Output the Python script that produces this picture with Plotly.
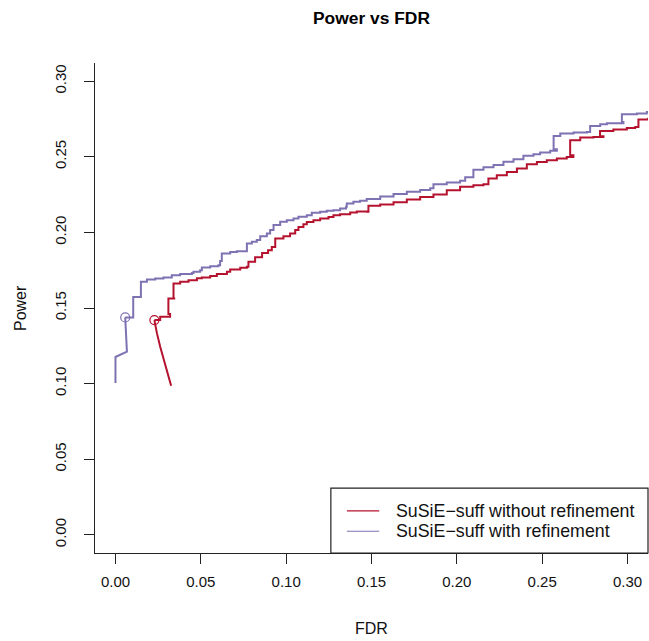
import plotly.graph_objects as go

# ---- data ----
fdr_with = [0.0000, 0.0000, 0.0067, 0.0057, 0.0104, 0.0104, 0.0149, 0.0149, 0.0184, 0.0233,
            0.0281, 0.0330, 0.0379, 0.0448, 0.0457, 0.0496, 0.0506, 0.0555, 0.0603, 0.0613,
            0.0623, 0.0672, 0.0711, 0.0770, 0.0770, 0.0799, 0.0828, 0.0848, 0.0887, 0.0906,
            0.0926, 0.0965, 0.1004, 0.1043, 0.1072, 0.1121, 0.1150, 0.1199, 0.1238, 0.1277,
            0.1316, 0.1351, 0.1355, 0.1394, 0.1433, 0.1472, 0.1551, 0.1629, 0.1707, 0.1785,
            0.1844, 0.1863, 0.1941, 0.2019, 0.2049, 0.2097, 0.2156, 0.2215, 0.2273, 0.2332,
            0.2390, 0.2449, 0.2488, 0.2547, 0.2586, 0.2567, 0.2606, 0.2684, 0.2762, 0.2781,
            0.2840, 0.2879, 0.2976, 0.2967, 0.3055, 0.3113, 0.3180]
power_with = [0.1004, 0.1176, 0.1211, 0.1438, 0.1460, 0.1572, 0.1585, 0.1673, 0.1689, 0.1695,
              0.1702, 0.1717, 0.1724, 0.1732, 0.1739, 0.1750, 0.1768, 0.1776, 0.1783, 0.1811,
              0.1860, 0.1871, 0.1876, 0.1887, 0.1927, 0.1938, 0.1949, 0.1975, 0.1993, 0.2015,
              0.2048, 0.2070, 0.2081, 0.2092, 0.2103, 0.2114, 0.2129, 0.2136, 0.2143, 0.2147,
              0.2158, 0.2169, 0.2191, 0.2202, 0.2209, 0.2220, 0.2238, 0.2253, 0.2268, 0.2281,
              0.2291, 0.2319, 0.2330, 0.2341, 0.2364, 0.2414, 0.2430, 0.2445, 0.2467, 0.2484,
              0.2506, 0.2517, 0.2528, 0.2539, 0.2550, 0.2638, 0.2654, 0.2660, 0.2664, 0.2704,
              0.2715, 0.2721, 0.2730, 0.2781, 0.2786, 0.2796, 0.2810]
n_tail_with = 4   # smooth (non-step) start of the curve, up to the marked point

fdr_without = [0.0326, 0.0291, 0.0262, 0.0243, 0.0233, 0.0228, 0.0262, 0.0320, 0.0310, 0.0350,
               0.0340, 0.0379, 0.0428, 0.0477, 0.0506, 0.0555, 0.0594, 0.0653, 0.0672, 0.0731,
               0.0770, 0.0779, 0.0818, 0.0859, 0.0894, 0.0916, 0.0936, 0.0984, 0.1023, 0.1053,
               0.1072, 0.1101, 0.1121, 0.1160, 0.1199, 0.1248, 0.1277, 0.1316, 0.1375, 0.1414,
               0.1473, 0.1482, 0.1551, 0.1629, 0.1707, 0.1785, 0.1863, 0.1941, 0.2019, 0.2097,
               0.2156, 0.2185, 0.2234, 0.2293, 0.2352, 0.2410, 0.2469, 0.2527, 0.2586, 0.2644,
               0.2683, 0.2664, 0.2723, 0.2800, 0.2859, 0.2839, 0.2917, 0.2996, 0.3045, 0.3064,
               0.3121, 0.3191]
power_without = [0.0986, 0.1123, 0.1244, 0.1332, 0.1398, 0.1420, 0.1442, 0.1460, 0.1563, 0.1563,
                 0.1662, 0.1673, 0.1684, 0.1696, 0.1702, 0.1711, 0.1724, 0.1739, 0.1755, 0.1766,
                 0.1772, 0.1805, 0.1836, 0.1863, 0.1882, 0.1904, 0.1960, 0.1975, 0.1993, 0.2015,
                 0.2036, 0.2054, 0.2069, 0.2081, 0.2092, 0.2102, 0.2114, 0.2120, 0.2131, 0.2138,
                 0.2137, 0.2176, 0.2184, 0.2199, 0.2217, 0.2234, 0.2250, 0.2279, 0.2301, 0.2312,
                 0.2318, 0.2356, 0.2378, 0.2400, 0.2422, 0.2450, 0.2466, 0.2477, 0.2488, 0.2499,
                 0.2510, 0.2609, 0.2627, 0.2631, 0.2635, 0.2670, 0.2680, 0.2690, 0.2697, 0.2746,
                 0.2752, 0.2761]
n_tail_without = 6

# highlighted points (open circles)
mark_fdr = {"with": 0.0057, "without": 0.0228}
mark_power = {"with": 0.1438, "without": 0.1420}

series_names = ["SuSiE\u2212suff without refinement", "SuSiE\u2212suff with refinement"]
tick_vals = [0.00, 0.05, 0.10, 0.15, 0.20, 0.25, 0.30]
tick_text = ["0.00", "0.05", "0.10", "0.15", "0.20", "0.25", "0.30"]

RED = "#B5122E"
PURPLE = "#7F72B2"
FONT = "Liberation Sans, Arial, sans-serif"

fig = go.Figure()
for fx, py, nt, col in [(fdr_without, power_without, n_tail_without, RED),
                        (fdr_with, power_with, n_tail_with, PURPLE)]:
    fig.add_trace(go.Scatter(x=fx[:nt], y=py[:nt], mode="lines",
                             line=dict(color=col, width=2), showlegend=False))
    fig.add_trace(go.Scatter(x=fx[nt - 1:], y=py[nt - 1:], mode="lines",
                             line=dict(color=col, width=2, shape="hv"), showlegend=False))

fig.add_trace(go.Scatter(x=[mark_fdr["without"]], y=[mark_power["without"]], mode="markers",
                         marker=dict(symbol="circle-open", size=9, color=RED, line=dict(width=1.2)),
                         showlegend=False))
fig.add_trace(go.Scatter(x=[mark_fdr["with"]], y=[mark_power["with"]], mode="markers",
                         marker=dict(symbol="circle-open", size=9, color=PURPLE, line=dict(width=1.2)),
                         showlegend=False))

axis_common = dict(showgrid=False, zeroline=False, showline=True, linecolor="#222",
                   linewidth=1.2, ticks="outside", ticklen=10, tickcolor="#222", tickwidth=1.2,
                   tickvals=tick_vals, ticktext=tick_text, automargin=False,
                   tickfont=dict(family=FONT, size=15, color="#111"), mirror=False)

fig.update_layout(
    width=649, height=641,
    margin=dict(l=95, r=1, t=63, b=88),
    plot_bgcolor="white", paper_bgcolor="white",
    xaxis=dict(range=[-0.012, 0.312], ticklabelstandoff=5, **axis_common),
    yaxis=dict(range=[-0.012, 0.312], tickangle=-90, ticklabelstandoff=12, **axis_common),
    showlegend=False,
)

# titles
fig.add_annotation(text="<b>Power vs FDR</b>", xref="paper", yref="paper", x=0.5, y=1,
                   yshift=45, showarrow=False, yanchor="middle",
                   font=dict(family=FONT, size=17.4, color="#000"))
fig.add_annotation(text="FDR", xref="paper", yref="paper", x=0.5, y=0, yshift=-75,
                   showarrow=False, yanchor="middle", font=dict(family=FONT, size=16, color="#111"))
fig.add_annotation(text="Power", xref="paper", yref="paper", x=0, y=0.5, xshift=-75,
                   showarrow=False, textangle=-90, xanchor="center",
                   font=dict(family=FONT, size=16, color="#111"))

# legend box (bottom-right, R style)
fig.add_shape(type="rect", xref="paper", yref="paper", x0=0.4265, x1=1.0, y0=0.0, y1=0.1326,
              line=dict(color="#222", width=1.2), fillcolor="white", layer="above")
legend_colors = [RED, PURPLE]
legend_y = [0.0860, 0.0444]
for name, col, ly in zip(series_names, legend_colors, legend_y):
    fig.add_shape(type="line", xref="paper", yref="paper", x0=0.4555, x1=0.5140, y0=ly, y1=ly,
                  line=dict(color=col, width=1.2), layer="above")
    fig.add_annotation(text=name, xref="paper", yref="paper", x=0.541, y=ly, xanchor="left",
                       yanchor="middle", showarrow=False,
                       font=dict(family=FONT, size=17.8, color="#111"))

fig.write_html("out.html", config={"displayModeBar": False},
               post_script="document.body.style.margin='0';document.body.style.overflow='hidden';")
